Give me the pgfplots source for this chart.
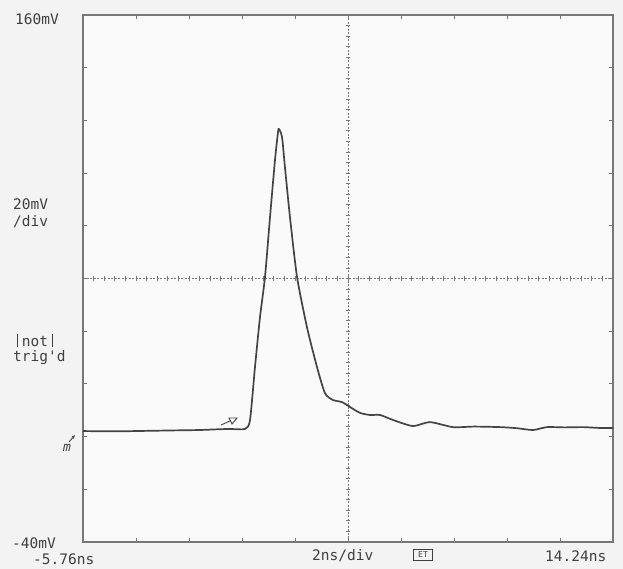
\documentclass[border=0pt]{standalone}
\usepackage{pgfplots}
\pgfplotsset{compat=1.18}
\usetikzlibrary{arrows.meta}
\usepackage{fontspec}
\setmonofont{DejaVu Sans Mono}
\definecolor{trace}{HTML}{444444}
\definecolor{gridc}{HTML}{777777}
\definecolor{bg}{HTML}{F3F3F3}
\newcommand{\vbar}{\makebox[8.7pt]{\rule{1.3pt}{12.5pt}}}
\begin{document}
\begin{tikzpicture}[x=1pt,y=1pt]
\fill[bg] (0,0) rectangle (623,569);
\begin{axis}[
  at={(83pt,27pt)}, anchor=south west,
  scale only axis, width=530pt, height=527pt,
  xmin=-5.76, xmax=14.24, ymin=-40, ymax=160,
  xtick={-5.76,-3.76,...,14.3}, ytick={-40,-20,...,160},
  xticklabels={}, yticklabels={},
  tick align=inside, major tick length=4pt,
  tick style={gridc, line width=0.8pt},
  axis line style={gridc, line width=1.4pt},
  axis background/.style={fill=white!60!bg},
  clip=false,
]
% centre graticule
\draw[gridc, line width=0.9pt, dash pattern=on 2pt off 1.5pt] (axis cs:4.24,-40) -- (axis cs:4.24,160);
\draw[gridc, line width=0.9pt, dash pattern=on 2pt off 1.5pt] (axis cs:-5.76,60) -- (axis cs:14.24,60);
\pgfplotsinvokeforeach{0,...,50}{
  \draw[gridc, line width=0.9pt] ([yshift=-2.2pt]axis cs:{-5.76+#1*0.4},60) -- ([yshift=2.2pt]axis cs:{-5.76+#1*0.4},60);
  \draw[gridc, line width=0.9pt] ([xshift=-2.2pt]axis cs:4.24,{-40+#1*4}) -- ([xshift=2.2pt]axis cs:4.24,{-40+#1*4});
}
\addplot[trace, line width=1.7pt, smooth, tension=0.4] coordinates {
(-5.76,2.1) (-4.5,2.0) (-3.23,2.2) (-2.0,2.4) (-1.345,2.5) (-0.6,2.8) (-0.213,2.9) (0.353,2.9)
(0.542,6.3) (0.73,26.4) (0.92,45.4) (1.108,60.6) (1.297,83.3) (1.485,105) (1.60,115.6)
(1.636,116.7) (1.75,113.7) (1.86,102.3) (2.05,83.3) (2.316,60.6) (2.69,41.6) (3.07,26.4)
(3.37,16.5) (3.67,13.9) (4.01,13.1) (4.32,11.2) (4.69,9.0) (5.07,8.2) (5.45,8.2) (5.94,6.3)
(6.69,4.0) (7.33,5.5) (8.2,3.6) (9.0,3.8) (9.98,3.6) (10.6,3.2) (11.22,2.5) (11.75,3.6)
(12.4,3.5) (13.1,3.6) (13.7,3.3) (14.24,3.3)
};
\end{axis}
% annotations
\begin{scope}[font=\ttfamily\fontsize{14.5}{14.5}\selectfont, text=black!75, inner sep=0pt]
\node[anchor=west] at (15,550) {160mV};
\node[anchor=west] at (13,365) {20mV};
\node[anchor=west] at (13,347) {/div};
\node[anchor=base west] at (13,222) {\vbar not\vbar};
\node[anchor=base west] at (13,207) {trig'd};
\node[anchor=west] at (12,26) {-40mV};
\node[anchor=west] at (33,10) {-5.76ns};
\node[anchor=west] at (312,13) {2ns/div};
\node[anchor=west] at (545,13) {14.24ns};
\node[anchor=center, draw=black!75, line width=0.8pt, minimum width=19pt, minimum height=11pt, font=\ttfamily\fontsize{8}{8}\selectfont] at (423,14) {ET};
\end{scope}
% trigger marker
\draw[black!75, line width=0.9pt] (221,144) -- (230,148);
\draw[black!75, line width=0.9pt, fill=white] (229,151) -- (237,151) -- (232,145) -- cycle;
% ground marker
\draw[black!75, line width=0.9pt, -{Stealth[length=4pt]}] (69,127) -- (75,134);
\node[font=\ttfamily\itshape\fontsize{13}{13}\selectfont, text=black!75] at (67,121) {m};
\end{tikzpicture}
\end{document}
